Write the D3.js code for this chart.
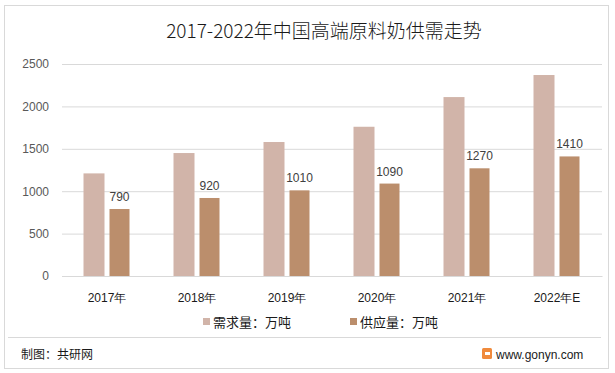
<!DOCTYPE html>
<html>
<head>
<meta charset="utf-8">
<script src="https://cdn.jsdelivr.net/npm/d3@7"></script>
<style>
  html, body { margin: 0; padding: 0; background: #fff; }
  svg { display: block; font-family: 'Noto Sans CJK SC', 'Microsoft YaHei', sans-serif; }
</style>
</head>
<body>
<svg id="chart" width="615" height="373"></svg>
<script>
// data
const categories = ['2017年', '2018年', '2019年', '2020年', '2021年', '2022年E']
const demand = [1210, 1450, 1580, 1760, 2110, 2370]
const supply = [790, 920, 1010, 1090, 1270, 1410]
const seriesNames = ['需求量：万吨', '供应量：万吨']
const yTicks = [0, 500, 1000, 1500, 2000, 2500]
const colors = ['#d1b4a9', '#bb8e6c']

const svg = d3.select('#chart')

// frame
svg.append('rect')
  .attr('x', 4.5).attr('y', 5.5)
  .attr('width', 604).attr('height', 363)
  .attr('fill', '#fff')
  .attr('stroke', '#d9d9d9')

svg.append('text')
  .attr('x', 324).attr('y', 38)
  .attr('text-anchor', 'middle')
  .attr('font-size', 19)
  .attr('font-weight', 300)
  .attr('fill', '#1a1a1a')
  .text('2017-2022年中国高端原料奶供需走势')

var margin = {left: 62, right: 602, top: 64, bottom: 276}

var x = d3.scaleBand()
  .domain(categories)
  .range([margin.left, margin.right])

var y = d3.scaleLinear()
  .domain([0, 2500])
  .range([margin.bottom, margin.top])

// gridlines + y labels
var yAxis = svg.append('g')
  .attr('transform', 'translate(' + margin.left + ',0)')
  .call(d3.axisLeft(y).tickValues(yTicks).tickFormat(d3.format('d'))
    .tickSize(-(margin.right - margin.left)).tickPadding(13))
yAxis.select('.domain').remove()
yAxis.selectAll('line').attr('stroke', '#d9d9d9')
yAxis.selectAll('text')
  .attr('font-size', 12)
  .attr('fill', '#595959')
  .attr('font-family', "'Liberation Sans', Arial, sans-serif")

var barW = 21, gap = 5

var groups = svg.selectAll('.cat')
  .data(categories)
  .enter().append('g')
  .attr('class', 'cat')

groups.append('rect')
  .attr('x', function(d) { return x(d) + x.bandwidth() / 2 - barW - gap / 2 })
  .attr('y', function(d, i) { return y(demand[i]) })
  .attr('width', barW)
  .attr('height', function(d, i) { return y(0) - y(demand[i]) })
  .attr('fill', colors[0])

groups.append('rect')
  .attr('x', function(d) { return x(d) + x.bandwidth() / 2 + gap / 2 })
  .attr('y', function(d, i) { return y(supply[i]) })
  .attr('width', barW - 1)
  .attr('height', function(d, i) { return y(0) - y(supply[i]) })
  .attr('fill', colors[1])

groups.append('text')
  .attr('x', function(d) { return x(d) + x.bandwidth() / 2 + gap / 2 + (barW - 1) / 2 })
  .attr('y', function(d, i) { return y(supply[i]) - 8 })
  .attr('text-anchor', 'middle')
  .attr('font-size', 12)
  .attr('fill', '#404040')
  .attr('font-family', "'Liberation Sans', Arial, sans-serif")
  .text(function(d, i) { return supply[i] })

// x axis
var xAxis = svg.append('g')
  .attr('transform', 'translate(0,' + margin.bottom + ')')
  .call(d3.axisBottom(x).tickSize(0).tickPadding(17))
xAxis.select('.domain').attr('stroke', '#d9d9d9')
xAxis.selectAll('text')
  .attr('font-size', 12)
  .attr('fill', '#1a1a1a')

// legend
var legendX = [203, 350]
seriesNames.forEach(function(name, i) {
  svg.append('rect')
    .attr('x', legendX[i]).attr('y', 318)
    .attr('width', 7).attr('height', 7)
    .attr('fill', colors[i])
  svg.append('text')
    .attr('x', legendX[i] + 10).attr('y', 327)
    .attr('font-size', 13)
    .attr('fill', '#1a1a1a')
    .text(name)
})

// footer
svg.append('line')
  .attr('x1', 8).attr('x2', 601)
  .attr('y1', 337.5).attr('y2', 337.5)
  .attr('stroke', '#d9d9d9')

svg.append('text')
  .attr('x', 21).attr('y', 359)
  .attr('font-size', 12)
  .attr('fill', '#1a1a1a')
  .text('制图：共研网')

var logo = svg.append('g').attr('transform', 'translate(482,348)')
logo.append('rect').attr('width', 10).attr('height', 11).attr('rx', 1.5).attr('fill', '#f08a3c')
logo.append('rect').attr('x', 3).attr('y', 4).attr('width', 5).attr('height', 3).attr('fill', '#fff')

svg.append('text')
  .attr('x', 496).attr('y', 359)
  .attr('font-size', 12)
  .attr('fill', '#1a1a1a')
  .attr('font-family', "'Liberation Sans', Arial, sans-serif")
  .text('www.gonyn.com')
</script>
</body>
</html>
